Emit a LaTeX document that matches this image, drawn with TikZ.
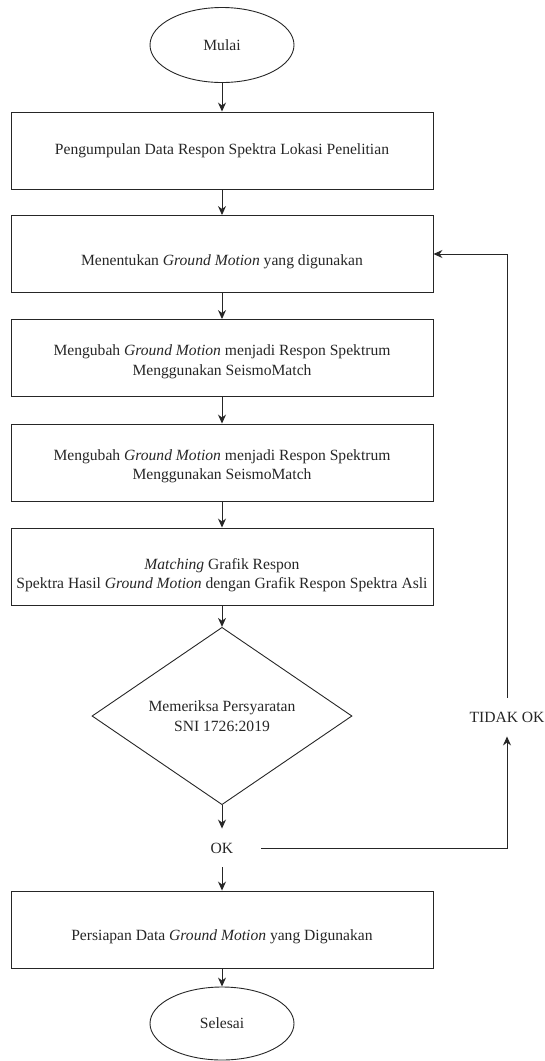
\documentclass[tikz,border=0pt]{standalone}
\usepackage{fontspec}
\setmainfont{Liberation Serif}
\usetikzlibrary{shapes.geometric,arrows.meta}
\begin{document}
\begin{tikzpicture}[x=1pt,y=-1pt,
  line width=0.9pt,
  every node/.style={font=\fontsize{15.6}{19.5}\selectfont, text=black!85},
  procbox/.style={draw=black!85, rectangle, minimum width=422pt, minimum height=77pt, inner sep=0pt},
  boxtext/.style={align=center, inner sep=0pt},
  terminal/.style={draw=black!85, ellipse, minimum width=144pt, minimum height=75pt, inner sep=0pt},
  decision/.style={draw=black!85, diamond, minimum width=260pt, minimum height=168pt, inner sep=0pt, align=center},
  flow/.style={draw=black!85, -{Stealth[length=9pt,width=8pt]}},
  tag/.style={inner sep=0pt, minimum height=38pt}
]
\useasboundingbox (0,0) rectangle (545,1061);

% terminals and decision
\node[terminal] (start) at (222,45) {Mulai};
\node[decision] (dec) at (222,716) {Memeriksa Persyaratan\\SNI 1726:2019};
\node[tag, minimum width=78pt] (ok) at (222,848) {OK};
\node[terminal, minimum height=73pt] (stop) at (222,1023.5) {Selesai};

% process boxes
\node[procbox] (b1) at (222,150.5) {};
\node[procbox] (b2) at (222,254) {};
\node[procbox] (b3) at (222,358) {};
\node[procbox] (b4) at (222,462.5) {};
\node[procbox] (b5) at (222,566.5) {};
\node[procbox] (b6) at (222,929.5) {};

% box captions
\node[boxtext] (t1) at (222,150.5) {Pengumpulan Data Respon Spektra Lokasi Penelitian};
\node[boxtext] (t2) at (222,262) {Menentukan \textit{Ground Motion} yang digunakan};
\node[boxtext] (t3) at (222,362) {Mengubah \textit{Ground Motion} menjadi Respon Spektrum\\Menggunakan SeismoMatch};
\node[boxtext] (t4) at (222,466.5) {Mengubah \textit{Ground Motion} menjadi Respon Spektrum\\Menggunakan SeismoMatch};
\node[boxtext] (t5) at (222,575) {\textit{Matching} Grafik Respon\\Spektra Hasil \textit{Ground Motion} dengan Grafik Respon Spektra Asli};
\node[boxtext] (t6) at (222,937) {Persiapan Data \textit{Ground Motion} yang Digunakan};

% side label of the loop
\node[tag] (tidak) at (507,717) {TIDAK OK};

% straight connectors
\draw[flow] (start.south) -- (b1.north);
\draw[flow] (b1.south) -- (b2.north);
\draw[flow] (b2.south) -- (b3.north);
\draw[flow] (b3.south) -- (b4.north);
\draw[flow] (b4.south) -- (b5.north);
\draw[flow] (b5.south) -- (dec.north);
\draw[flow] (dec.south) -- (ok.north);
\draw[flow] (ok.south) -- (b6.north);
\draw[flow] (b6.south) -- (stop.north);

% feedback loop
\draw[flow] (ok.east) -| (tidak.south);
\draw[flow] (tidak.north) |- (b2.east);
\end{tikzpicture}
\end{document}
